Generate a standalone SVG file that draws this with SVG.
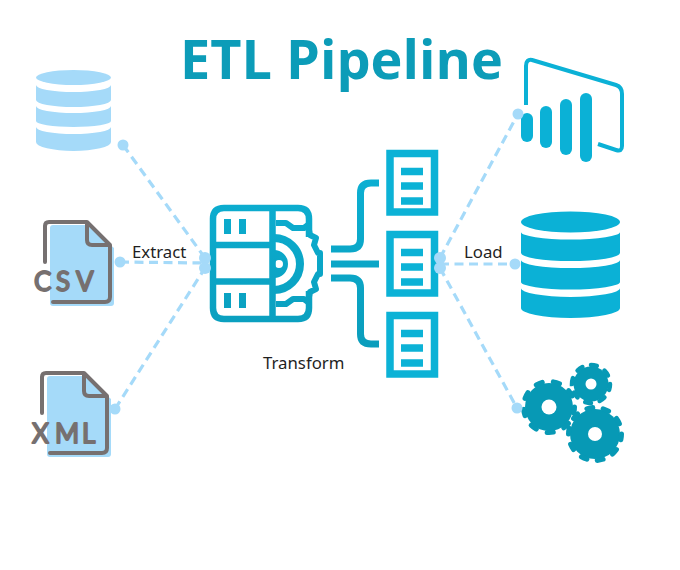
<svg xmlns="http://www.w3.org/2000/svg" xmlns:xlink="http://www.w3.org/1999/xlink" width="680" height="570" viewBox="0 0 680 570">
  <style>
    .label { font-family: "Noto Sans", "Open Sans", sans-serif; font-size: 16.800px; fill: #1f1f1f; }
    .title { font-family: "Open Sans", "Noto Sans", sans-serif; font-weight: 700; font-size: 54px; fill: #0c9cb8; }
    .tag { font-family: "Lato", "Liberation Sans", sans-serif; font-weight: 400; font-size: 26px; fill: #767070; stroke: #767070; stroke-width: 1.800; stroke-linejoin: round; }
    .dash { stroke: #a5daf9; stroke-width: 3.200; stroke-dasharray: 9 5.500; fill: none; }
    .dot { fill: #a5daf9; }
    .sheet { fill: #a5daf9; }
    .outline { fill: none; stroke: #767070; stroke-width: 4; stroke-linecap: round; stroke-linejoin: round; }
    .ink { stroke: url(#tealFade); fill: none; }
    .inkfill { fill: url(#tealFade); }
    .bar { fill: #0bb1d6; }
    .tooth { fill: none; stroke: #0799b5; stroke-linecap: round; }
    .hub { fill: #0799b5; }
  </style>
  <defs>
    <linearGradient id="tealFade" gradientUnits="userSpaceOnUse" x1="0" y1="150" x2="0" y2="378">
      <stop offset="0" stop-color="#0cb2d6"/>
      <stop offset="1" stop-color="#0a9ab8"/>
    </linearGradient>
    <g id="file">
      <path class="sheet" d="M53 225 H87 L114 248 V303 Q114 306 111 306 H53 Q50 306 50 303 V228 Q50 225 53 225 Z"/>
      <path class="outline" d="M45 262 V226 Q45 222 49 222 H87 L110 245 V297 Q110 302 105 302 H53 M87 222 V240 Q87 245 92 245 H110"/>
    </g>
    <g id="doc">
      <rect class="ink" x="390" y="0" width="44.500" height="58.500" stroke-width="7.500"/>
      <path class="ink" stroke-width="7.500" d="M401 18 H423 M401 32.500 H423 M401 47.500 H423"/>
    </g>
  </defs>

  <text class="title" x="180" y="79" id="title">ETL Pipeline</text>

  <g id="source-database" fill="#a5daf9">
    <ellipse cx="73.500" cy="77.500" rx="37.500" ry="7.500"/>
    <path d="M36 85 A37.500 7 0 0 0 111 85 V100 A37.500 7 0 0 1 36 100 Z"/>
    <path d="M36 106 A37.500 7 0 0 0 111 106 V121 A37.500 6 0 0 1 36 121 Z"/>
    <path d="M36 127 A37.500 7 0 0 0 111 127 V142 A37.500 9 0 0 1 36 142 Z"/>
  </g>

  <g id="source-csv">
    <use xlink:href="#file" href="#file"/>
    <text class="tag" x="34 56 76" y="291">CSV</text>
  </g>

  <g id="source-xml">
    <use xlink:href="#file" href="#file" x="-3" y="151"/>
    <text class="tag" x="32 55 82" y="443">XML</text>
  </g>

  <g id="transform-server">
    <path class="ink" stroke-width="6.500" stroke-linejoin="round" d="M309 237 V219 Q309 208 298 208 H224 Q213 208 213 219 V308 Q213 319 224 319 H298 Q309 319 309 308 V291"/>
    <path class="ink" stroke-width="6.500" d="M272.500 208 V319 M213 245 H272 M213 281.500 H272"/>
    <path class="ink" stroke-width="7" d="M227.500 219 V234 M242.500 219 V234 M227.500 293 V308 M242.500 293 V308"/>
    <path class="ink" stroke-width="6" stroke-linejoin="round" d="M276 223 H286 L293 228 H304 L308 225 L310 235 L316 238 L314 245 L318 253 H320 V274 H318 L314 282 L316 289 L310 292 L308 302 L304 299 H293 L286 304 H276"/>
    <path class="inkfill" fill-rule="evenodd" d="M274 250 A14 14 0 0 1 274 278 Z M283 264 A4 4 0 1 0 275 264 A4 4 0 1 0 283 264 Z"/>
    <path class="ink" stroke-width="8" d="M274 238 A26 26 0 0 1 274 290"/>
  </g>

  <g id="bus">
    <path class="ink" stroke-width="7" d="M331 249 H350 Q360.500 249 360.500 239 V193 Q360.500 183 371 183 H379"/>
    <path class="ink" stroke-width="7" d="M331 264 H379"/>
    <path class="ink" stroke-width="7" d="M331 278 H350 Q360.500 278 360.500 288 V334 Q360.500 344 371 344 H379"/>
  </g>

  <g id="table-1"><use xlink:href="#doc" href="#doc" y="153.500"/></g>
  <g id="table-2"><use xlink:href="#doc" href="#doc" y="234.500"/></g>
  <g id="table-3"><use xlink:href="#doc" href="#doc" y="315.500"/></g>

  <g id="target-dashboard">
    <path fill="none" stroke="#0bb1d6" stroke-width="4" stroke-linejoin="round" d="M526 105 V66 Q526 59 532 60 L616 85 Q622 87 622 94 V146 Q622 152 616 150 L598 144"/>
    <rect class="bar" x="521" y="113" width="12" height="29" rx="6"/>
    <rect class="bar" x="540" y="106" width="12" height="42" rx="6"/>
    <rect class="bar" x="560" y="99" width="12" height="56" rx="6"/>
    <rect class="bar" x="580" y="93" width="12" height="69" rx="6"/>
  </g>

  <g id="target-database" fill="#0bb1d6">
    <ellipse cx="570.500" cy="222" rx="49.500" ry="10.500"/>
    <path d="M521 232 A49.500 7.500 0 0 0 620 232 V253 A49.500 8 0 0 1 521 253 Z"/>
    <path d="M521 260 A49.500 8 0 0 0 620 260 V282 A49.500 7.500 0 0 1 521 282 Z"/>
    <path d="M521 288 A49.500 9 0 0 0 620 288 V308 A49.500 10 0 0 1 521 308 Z"/>
  </g>

  <g id="target-gears">
    <circle class="hub" cx="549" cy="407" r="24"/>
    <circle class="tooth" cx="549" cy="407" r="25.500" stroke-width="5" pathLength="9" stroke-dasharray=".36 .64"/>
    <circle cx="549" cy="407" r="7.500" fill="#fff"/>
    <circle class="hub" cx="591" cy="384" r="17.500"/>
    <circle class="tooth" cx="591" cy="384" r="19" stroke-width="4.500" pathLength="8" stroke-dasharray=".4 .6"/>
    <circle cx="591" cy="384" r="5.500" fill="#fff"/>
    <circle class="hub" cx="595" cy="434" r="25"/>
    <circle class="tooth" cx="595" cy="434" r="26.500" stroke-width="5" pathLength="10" stroke-dasharray=".36 .64"/>
    <circle cx="595" cy="434" r="7" fill="#fff"/>
  </g>

  <g id="connectors">
    <path class="dash" d="M123 145 L205 258"/>
    <path class="dash" d="M120 262 L205 263"/>
    <path class="dash" d="M115 409 L205 268"/>
    <path class="dash" d="M440 258 L518 114"/>
    <path class="dash" d="M440 264 L515 264"/>
    <path class="dash" d="M440 268 L517 408"/>
    <circle class="dot" cx="123" cy="145" r="5.500"/>
    <circle class="dot" cx="120" cy="262" r="5.500"/>
    <circle class="dot" cx="115" cy="409" r="5.500"/>
    <circle class="dot" cx="205" cy="258" r="6"/>
    <circle class="dot" cx="205" cy="268" r="6"/>
    <circle class="dot" cx="440" cy="258" r="6"/>
    <circle class="dot" cx="440" cy="268" r="6"/>
    <circle class="dot" cx="518" cy="114" r="5.500"/>
    <circle class="dot" cx="515" cy="264" r="5.500"/>
    <circle class="dot" cx="517" cy="408" r="5.500"/>
  </g>

  <g id="labels">
    <text class="label" x="132" y="258">Extract</text>
    <text class="label" x="263" y="369">Transform</text>
    <text class="label" x="464" y="258">Load</text>
  </g>
</svg>
